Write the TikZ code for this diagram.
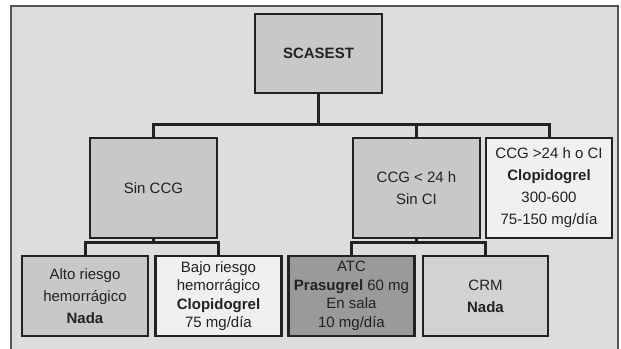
\documentclass[tikz,border=0pt]{standalone}
\usepackage{fontspec}
\setmainfont{Liberation Sans}
\begin{document}
\begin{tikzpicture}[x=1pt,y=-1pt,
  every node/.style={text=txt},
  box/.style={draw=linec, line width=2.6pt, align=center, inner sep=0pt,
    font={\fontsize{15}{22}\selectfont}},
  tight/.style={font={\fontsize{15}{18.5}\selectfont}},
  topbox/.style={box, minimum width=127pt, minimum height=100pt},
  botbox/.style={box, minimum width=126pt, minimum height=80pt},
  conn/.style={draw=linec, line width=3pt}
]
\definecolor{bg}{HTML}{DCDDDF}
\definecolor{linec}{HTML}{222222}
\definecolor{txt}{HTML}{222222}
\definecolor{gmid}{HTML}{C8C8C8}
\definecolor{glight}{HTML}{F0F0F0}
\definecolor{gdark}{HTML}{9A9A9A}
\definecolor{gcrm}{HTML}{D2D2D2}
\definecolor{frameline}{HTML}{555555}
\useasboundingbox (0,0) rectangle (621,348);
\fill[white] (0,0) rectangle (621,348);
\begin{scope}
\clip (0,0) rectangle (621,348);
\fill[bg] (11,6) rectangle (618,352);
\draw[frameline, line width=1.4pt] (11,352) -- (11,6) -- (618,6) -- (618,352);
\end{scope}

\node[box, fill=gmid, minimum width=127pt, minimum height=79pt, font={\fontsize{15}{22}\selectfont\bfseries}] (scasest) at (318.5,53.5) {SCASEST};

\node[topbox, fill=gmid] (sinccg) at (153.5,188) {Sin CCG};
\node[topbox, fill=gmid] (ccg24) at (416.5,188) {CCG < 24 h\\Sin CI};
\node[topbox, fill=glight, minimum width=126pt] (ccgmas) at (549,188) {CCG >24 h o CI\\\textbf{Clopidogrel}\\300-600\\75-150 mg/día};

\node[botbox, fill=gmid] (alto) at (85,296) {Alto riesgo\\hemorrágico\\\textbf{Nada}};
\node[botbox, fill=glight, tight] (bajo) at (218.5,296) {Bajo riesgo\\hemorrágico\\\textbf{Clopidogrel}\\75 mg/día};
\node[botbox, fill=gdark, tight] (atc) at (351.5,296) {ATC\\\textbf{Prasugrel} 60 mg\\En sala\\10 mg/día};
\node[botbox, fill=gcrm, minimum width=125pt] (crm) at (485.5,296) {CRM\\\textbf{Nada}};

\coordinate (b1) at (318.5,124);
\coordinate (b2) at (153.5,242);
\coordinate (b3) at (416.5,242);

\draw[conn] (scasest.south) -- (b1);
\draw[conn] (sinccg.north) |- (b1) -- (ccgmas.north |- b1) -- (ccgmas.north);
\draw[conn] (ccg24.north) -- (ccg24.north |- b1);

\draw[conn] (sinccg.south) -- (b2);
\draw[conn] (alto.north) |- (b2) -- (bajo.north |- b2) -- (bajo.north);
\draw[conn] (ccg24.south) -- (b3);
\draw[conn] (atc.north) |- (b3) -- (crm.north |- b3) -- (crm.north);
\end{tikzpicture}
\end{document}
